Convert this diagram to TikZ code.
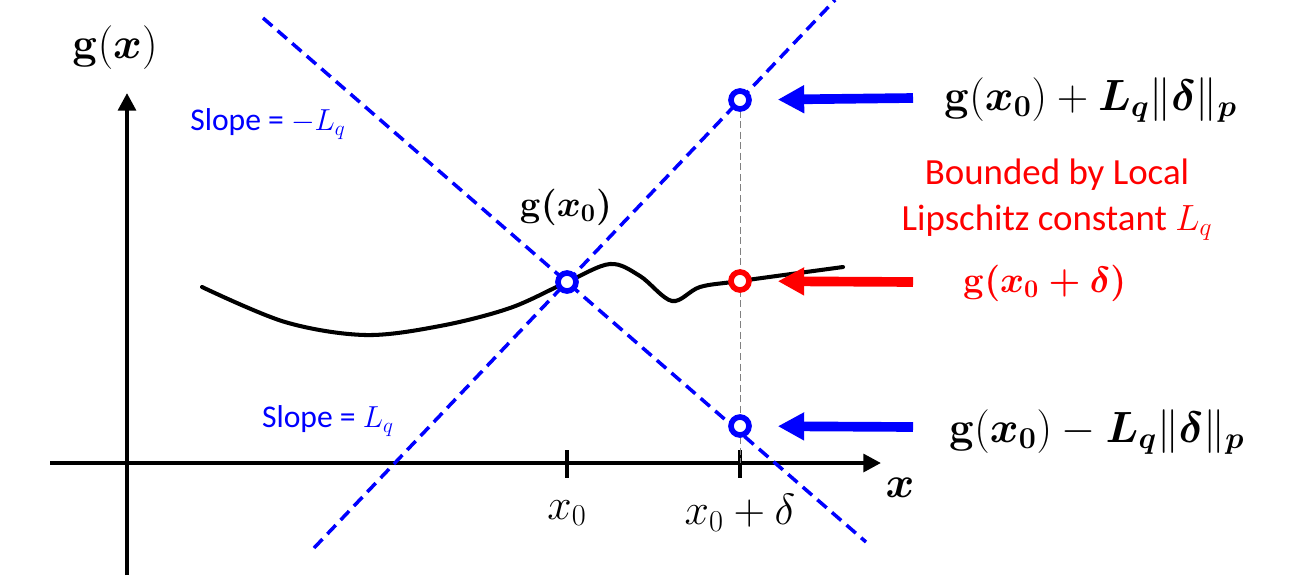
\documentclass[tikz,border=0pt]{standalone}
\usepackage{amsmath,bm}
\usepackage[no-math]{fontspec}
\setmainfont{Carlito}
\usetikzlibrary{arrows.meta,positioning}

\begin{document}
\begin{tikzpicture}[x=0.02cm,y=-0.02cm,font=\fontsize{21}{26}\selectfont]
    \tikzstyle{axis}=[line width=2.3pt,-{Triangle[length=10pt,width=10pt]}]
    \tikzstyle{bound}=[blue,line width=2pt,dash pattern=on 7pt off 4pt]
    \tikzstyle{pt}=[circle,line width=3.2pt,fill=white,minimum size=0.36cm,inner sep=0pt]
    \tikzstyle{pointer}=[line width=5.5pt,-{Triangle[length=15pt,width=15pt]},shorten >=0.52cm]
    \tikzstyle{mathlbl}=[font=\fontsize{23.5}{28}\selectfont]
    \tikzstyle{boldlbl}=[font=\fontsize{21.5}{26}\selectfont\boldmath]

    \useasboundingbox (0,0) rectangle (1290,576);

    \coordinate (ybot) at (127,575);
    \coordinate (ytop) at (127,93);
    \coordinate (xleft) at (50,463);
    \coordinate (xright) at (881,463);
    \draw[axis] (ybot) -- (ytop);
    \draw[axis] (xleft) -- (xright);

    \coordinate (tick0a) at (567,450);
    \coordinate (tick0b) at (567,478);
    \coordinate (tick1a) at (740,450);
    \coordinate (tick1b) at (740,478);
    \draw[line width=2.3pt] (tick0a) -- (tick0b);
    \draw[line width=2.3pt] (tick1a) -- (tick1b);

    \coordinate (vtop) at (740,100);
    \coordinate (vbot) at (740,463);
    \draw[gray,line width=0.5pt,dash pattern=on 4pt off 2pt] (vtop) -- (vbot);

    \draw[line width=2.3pt,line cap=round] plot[smooth,tension=0.55] coordinates {
        (202,287) (285,322) (365,335) (440,326) (510,308)
        (567,282) (610,264) (640,276) (672,301) (700,287)
        (740,281) (843,267)};

    \coordinate (la) at (263,18);
    \coordinate (lb) at (866,542);
    \coordinate (lc) at (314,548);
    \coordinate (ld) at (835,0);
    \draw[bound] (la) -- (lb);
    \draw[bound] (lc) -- (ld);

    \node[pt,draw=blue] (p0) at (567,282) {};
    \node[pt,draw=blue] (pup) at (740,100) {};
    \node[pt,draw=red] (pmid) at (740,281) {};
    \node[pt,draw=blue] (plow) at (740,426) {};

    \coordinate (aup) at (913,98);
    \coordinate (amid) at (913,282);
    \coordinate (alow) at (913,427);
    \draw[pointer,blue] (aup) -- (pup);
    \draw[pointer,red] (amid) -- (pmid);
    \draw[pointer,blue] (alow) -- (plow);

    \node[mathlbl] (gx) at (115,48) {$\mathbf{g}(\bm{x})$};
    \node[font=\fontsize{30}{34}\selectfont] (xl) at (900,488) {$\bm{x}$};
    \node[font=\fontsize{24}{28}\selectfont] (t0) at (567,513) {$x_0$};
    \node[font=\fontsize{24}{28}\selectfont] (t1) at (740,513) {$x_0+\delta$};
    \node[boldlbl] (g0) at (566,207) {$\mathbf{g}(x_0)$};

    \node[blue,font=\fontsize{18}{21}\selectfont] (s1) at (268,124) {Slope = $-L_q$};
    \node[blue,font=\fontsize{18}{21}\selectfont] (s2) at (328,421) {Slope = $L_q$};

    \node[mathlbl,anchor=west] (lup) at (938,100) {$\mathbf{g}(\bm{x_0}) + \bm{L_q}\|\bm{\delta}\|_{\bm{p}}$};
    \node[boldlbl,anchor=west,red] (lmid) at (957,283) {$\mathbf{g}(x_0+\delta)$};
    \node[mathlbl,anchor=west] (llow) at (943,432) {$\mathbf{g}(\bm{x_0}) - \bm{L_q}\|\bm{\delta}\|_{\bm{p}}$};
    \node[red,align=center] (bnd) at (1057,200) {Bounded by Local\\Lipschitz constant $L_q$};
\end{tikzpicture}
\end{document}
